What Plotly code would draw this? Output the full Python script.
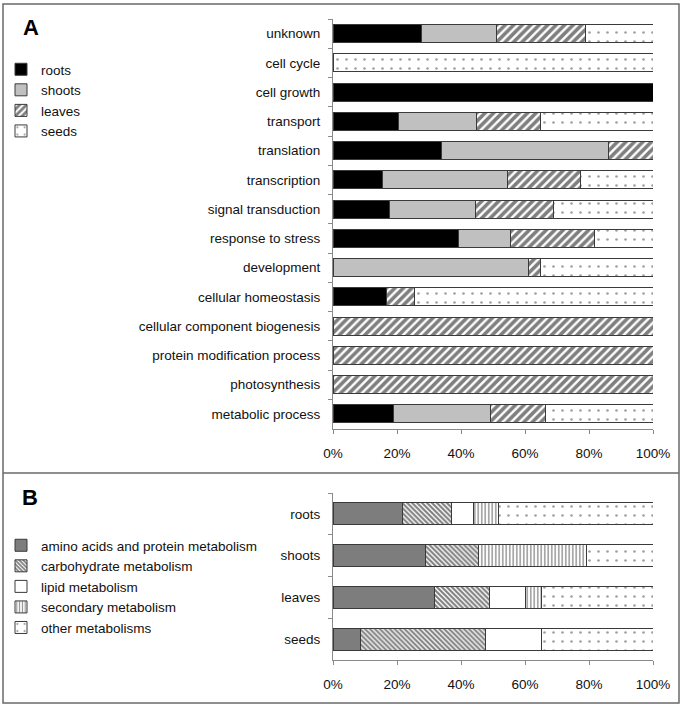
import plotly.graph_objects as go

# ---------- Panel A data (percent of proteins per tissue) ----------
categories_a = ["unknown", "cell cycle", "cell growth", "transport", "translation",
                "transcription", "signal transduction", "response to stress",
                "development", "cellular homeostasis", "cellular component biogenesis",
                "protein modification process", "photosynthesis", "metabolic process"]
roots  = [27.5, 0, 100, 20.6, 33.8, 15.4, 17.5, 39.2, 0, 16.8, 0, 0, 0, 18.9]
shoots = [23.5, 0, 0, 24.3, 52.4, 39.2, 26.9, 16.3, 61.1, 0, 0, 0, 0, 30.3]
leaves = [28.0, 0, 0, 20.0, 13.8, 22.8, 24.6, 26.1, 3.8, 8.6, 100, 100, 100, 17.2]
seeds  = [21.0, 100, 0, 35.1, 0, 22.6, 31.0, 18.4, 35.1, 74.6, 0, 0, 0, 33.6]

# ---------- Panel B data ----------
categories_b = ["roots", "shoots", "leaves", "seeds"]
amino     = [21.7, 28.8, 31.7, 8.5]
carb      = [15.3, 16.8, 17.2, 39.2]
lipid     = [6.8, 0, 11.1, 17.4]
secondary = [7.9, 33.6, 5.3, 0]
other     = [48.3, 20.8, 34.7, 34.9]

tick_vals = [0, 20, 40, 60, 80, 100]
tick_text = ["0%", "20%", "40%", "60%", "80%", "100%"]

FONT = "Liberation Sans, Arial, sans-serif"
LINE = dict(color="#3a3a3a", width=1)
W, H = 685, 709

def px_x(p):
    return p / W

def px_y(p):
    return 1 - p / H

fig = go.Figure()

dots = dict(shape=".", bgcolor="white", fgcolor="#444444", size=9, solidity=0.07)

def add_a(name, vals, color, pattern=None):
    m = dict(color=color, line=LINE)
    if pattern:
        m["pattern"] = pattern
    fig.add_trace(go.Bar(y=categories_a, x=vals, name=name, orientation="h",
                         marker=m, width=0.62, xaxis="x", yaxis="y",
                         legend="legend", hoverinfo="x+y+name"))

add_a("roots", roots, "black")
add_a("shoots", shoots, "#c0c0c0")
add_a("leaves", leaves, "white", dict(shape="/", bgcolor="white", fgcolor="black", size=6, solidity=0.6))
add_a("seeds", seeds, "white", dots)

def add_b(name, vals, color, pattern=None):
    m = dict(color=color, line=LINE)
    if pattern:
        m["pattern"] = pattern
    fig.add_trace(go.Bar(y=categories_b, x=vals, name=name, orientation="h",
                         marker=m, width=0.53, xaxis="x2", yaxis="y2",
                         legend="legend2", hoverinfo="x+y+name"))

add_b("amino acids and protein metabolism", amino, "#7d7d7d")
add_b("carbohydrate metabolism", carb, "white", dict(shape="\\", bgcolor="white", fgcolor="black", size=3.5, solidity=0.6))
add_b("lipid metabolism", lipid, "white")
add_b("secondary metabolism", secondary, "white", dict(shape="|", bgcolor="white", fgcolor="#222222", size=3.5, solidity=0.4))
add_b("other metabolisms", other, "white", dots)

xdom = [px_x(333), px_x(653)]
axis_common = dict(showgrid=False, zeroline=False, showline=True, linecolor="#8a8a8a",
                   linewidth=1, ticks="outside", ticklen=4, tickcolor="#8a8a8a",
                   automargin=False,
                   tickfont=dict(family=FONT, size=13.5, color="#111111"))

fig.update_layout(
    width=W, height=H, autosize=False, barmode="stack",
    margin=dict(l=0, r=0, t=0, b=0, pad=0),
    paper_bgcolor="white", plot_bgcolor="white",
    font=dict(family=FONT, size=13.5, color="#111111"),
    xaxis=dict(domain=xdom, range=[0, 100], anchor="y", tickvals=tick_vals,
               ticktext=tick_text, ticklabelstandoff=8, **axis_common),
    yaxis=dict(domain=[px_y(428.5), px_y(19)], anchor="x", type="category",
               categoryorder="array", categoryarray=categories_a,
               autorange="reversed", tickson="boundaries", ticklabelstandoff=9,
               **axis_common),
    xaxis2=dict(domain=xdom, range=[0, 100], anchor="y2", tickvals=tick_vals,
                ticktext=tick_text, ticklabelstandoff=8, **axis_common),
    yaxis2=dict(domain=[px_y(660), px_y(493)], anchor="x2", type="category",
                categoryorder="array", categoryarray=categories_b,
                autorange="reversed", tickson="boundaries", ticklabelstandoff=9,
                **axis_common),
    legend=dict(x=px_x(1), y=px_y(54), xanchor="left", yanchor="top",
                traceorder="normal", bgcolor="rgba(0,0,0,0)",
                font=dict(family=FONT, size=13.5, color="#111111")),
    legend2=dict(x=px_x(1), y=px_y(530), xanchor="left", yanchor="top",
                 traceorder="normal", bgcolor="rgba(0,0,0,0)",
                 font=dict(family=FONT, size=13.5, color="#111111")),
    showlegend=True,
    annotations=[
        dict(text="<b>A</b>", x=px_x(31), y=px_y(27), xref="paper", yref="paper",
             showarrow=False, font=dict(family=FONT, size=22, color="black"),
             xanchor="center", yanchor="middle"),
        dict(text="<b>B</b>", x=px_x(30), y=px_y(497), xref="paper", yref="paper",
             showarrow=False, font=dict(family=FONT, size=22, color="black"),
             xanchor="center", yanchor="middle"),
    ],
    shapes=[
        dict(type="rect", xref="paper", yref="paper", x0=px_x(3), x1=px_x(679),
             y0=px_y(703), y1=px_y(4), line=dict(color="#6a6a6a", width=1.5)),
        dict(type="line", xref="paper", yref="paper", x0=px_x(3), x1=px_x(679),
             y0=px_y(473), y1=px_y(473), line=dict(color="#6a6a6a", width=1.5)),
    ],
)

fig.write_html("out.html",
               config={"responsive": False, "displayModeBar": False},
               post_script="document.body.style.margin='0px';"
                           "document.body.style.overflow='hidden';")
